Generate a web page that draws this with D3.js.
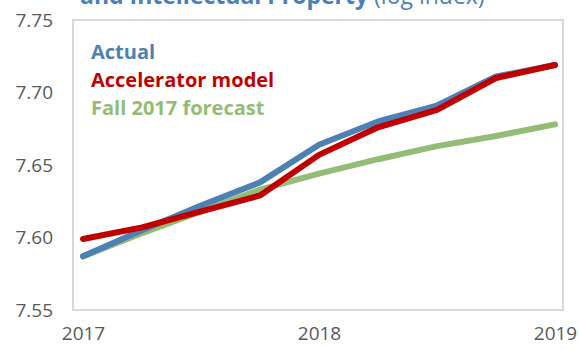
<!DOCTYPE html>
<html>
<head>
<meta charset="utf-8">
<script src="https://cdn.jsdelivr.net/npm/d3@7/dist/d3.min.js"></script>
<style>
  html, body { margin: 0; padding: 0; background: #fff; }
  svg { display: block; font-family: "Open Sans", "Noto Sans", sans-serif; }
</style>
</head>
<body>
<svg id="chart" width="579" height="350"></svg>
<script>
// Quarterly observations, 2017Q1 through 2019Q1 (log index)
const quarters = ["2017Q1", "2017Q2", "2017Q3", "2017Q4", "2018Q1", "2018Q2", "2018Q3", "2018Q4", "2019Q1"];
const actual      = [7.587, 7.605, 7.622, 7.638, 7.664, 7.680, 7.691, 7.711, 7.719];
const accelerator = [7.599, 7.607, 7.618, 7.629, 7.657, 7.676, 7.688, 7.710, 7.719];
const forecast    = [7.587, 7.603, 7.618, 7.633, 7.644, 7.654, 7.663, 7.670, 7.678];

const yTicks = [7.55, 7.60, 7.65, 7.70, 7.75];
const yearTicks = [0, 4, 8];
const yearLabels = ["2017", "2018", "2019"];

const seriesNames = ["Actual", "Accelerator model", "Fall 2017 forecast"];
const seriesColors = ["#4d80b3", "#c00000", "#93bd75"];

const svg = d3.select("#chart");

const frame = { left: 73, right: 563, top: 20, bottom: 310 };

const x = d3.scaleLinear().domain([0, quarters.length - 1]).range([83, 555]);
const y = d3.scaleLinear().domain([7.55, 7.75]).range([frame.bottom, frame.top]);

// Title (its upper line sits above the top edge of the page)
const title = svg.append("text")
  .attr("x", 80).attr("y", 4)
  .attr("fill", "#4a7fbb")
  .style("font-size", "23px");
title.append("tspan").attr("font-weight", "bold").text("and Intellectual Property");
title.append("tspan").text(" (log index)");

// Plot frame
svg.append("rect")
  .attr("x", frame.left).attr("y", frame.top)
  .attr("width", frame.right - frame.left)
  .attr("height", frame.bottom - frame.top)
  .attr("fill", "none")
  .attr("stroke", "#d9d9d9")
  .attr("stroke-width", 2);

// Y axis labels
const yAxis = d3.axisLeft(y)
  .tickValues(yTicks)
  .tickFormat(d3.format(".2f"))
  .tickSize(0)
  .tickPadding(0);
const yg = svg.append("g").attr("transform", "translate(53,0)").call(yAxis);
yg.select(".domain").remove();
yg.selectAll("text")
  .attr("fill", "#595959")
  .style("font-size", "19px")
  .style("font-family", "'Open Sans', sans-serif");

// X axis labels
const xAxis = d3.axisBottom(x)
  .tickValues(yearTicks)
  .tickFormat((d, i) => yearLabels[i])
  .tickSize(0)
  .tickPadding(0);
const xg = svg.append("g").attr("transform", "translate(0,326)").call(xAxis);
xg.select(".domain").remove();
xg.selectAll("text")
  .attr("fill", "#595959")
  .style("font-size", "19px")
  .style("font-family", "'Open Sans', sans-serif");

// Lines: forecast underneath, accelerator model on top
const line = d3.line().x((d, i) => x(i)).y(d => y(d));
const drawOrder = [
  { values: forecast, color: seriesColors[2] },
  { values: actual, color: seriesColors[0] },
  { values: accelerator, color: seriesColors[1] }
];
svg.append("g").selectAll("path")
  .data(drawOrder)
  .join("path")
  .attr("d", d => line(d.values))
  .attr("fill", "none")
  .attr("stroke", d => d.color)
  .attr("stroke-width", 6)
  .attr("stroke-linecap", "round")
  .attr("stroke-linejoin", "round");

// Legend
svg.append("g").selectAll("text")
  .data(seriesNames)
  .join("text")
  .attr("x", 91)
  .attr("y", (d, i) => 59 + i * 28)
  .attr("fill", (d, i) => seriesColors[i])
  .attr("font-weight", "bold")
  .style("font-size", "20px")
  .text(d => d);
</script>
</body>
</html>
